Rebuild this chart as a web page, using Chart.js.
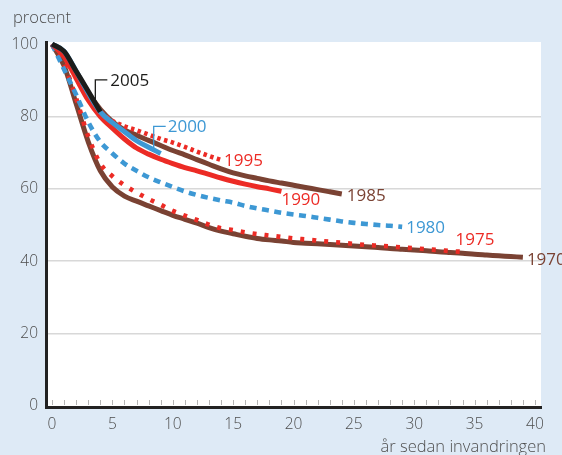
<!DOCTYPE html>
<html>
<head>
<meta charset="utf-8">
<script src="https://cdn.jsdelivr.net/npm/chart.js@4/dist/chart.umd.min.js"></script>
<style>
html,body{margin:0;padding:0;background:#deeaf6;}
#wrap{width:562px;height:455px;position:relative;}
</style>
</head>
<body>
<div id="wrap"><canvas id="c" width="562" height="455"></canvas></div>
<script>
// ---- data ----
const yearsSince = [0,1,2,3,4,5,6,7,8,9,10,11,12,13,14,15,16,17,18,19,20,21,22,23,24,25,26,27,28,29,30,31,32,33,34,35,36,37,38,39];
const seriesNames = ['2005','2000','1995','1990','1985','1980','1975','1970'];
const s2005 = [100,98,92.5,87,81.3];
const s2000 = [100,98,92.5,86.5,81.3,78.3,75.8,73.3,71.5,69.8];
const s1995 = [100,97.3,91.5,86,81.5,78.8,77.3,76.2,75,73.8,72.8,71.6,70.3,69.1,68];
const s1990 = [100,96.5,90.5,84.5,80,76.8,73.8,71.3,69.6,68.2,67,65.9,65,64,63,62.1,61.3,60.6,60,59.3];
const s1985 = [100,97.3,92,86.5,82,78.6,76.3,74.8,73.4,72,70.6,69.4,68.1,66.8,65.5,64.4,63.6,62.9,62.2,61.6,61,60.4,59.8,59.2,58.6];
const s1980 = [100,93,86,78.5,73,69.8,67,65,63.2,61.8,60.5,59.3,58.3,57.5,56.8,56.2,55.3,54.6,54,53.4,52.9,52.5,52,51.5,51,50.6,50.3,50,49.8,49.5];
const s1975 = [100,94.5,85,74.5,67,63.5,61,59,57.2,55.6,53.9,52.6,51.4,50.1,49.1,48.6,48,47.5,47.1,46.7,46.3,46,45.7,45.4,45.1,44.8,44.5,44.3,44.1,43.8,43.6,43.3,43.1,42.8,42.6];
const s1970 = [100,94,83.5,73,65,60.5,58,56.6,55.3,54,52.7,51.6,50.5,49.3,48.3,47.6,46.9,46.3,45.9,45.6,45.2,45,44.8,44.6,44.4,44.2,44,43.8,43.5,43.3,43.1,42.9,42.6,42.4,42.2,41.9,41.7,41.5,41.3,41.1];
const xTickValues = [0,5,10,15,20,25,30,35,40];
const yTickValues = [0,20,40,60,80,100];
const minorTickValues = [0,1,2,3,4,5,6,7,8,9,10,11,12,13,14,15,16,17,18,19,20,21,22,23,24,25,26,27,28,29,30,31,32,33,34,35,36,37,38,39,40];
const yTitle = 'procent';
const xTitle = 'år sedan invandringen';

// ---- styles ----
const BROWN = '#7a4233', RED = '#ec2b25', BLUE = '#3d98d4', BLACK = '#1c1c1a';
const TEXT = '#4e4e4e';
const FONT = "'Open Sans', 'Noto Sans', sans-serif";

const seriesValues = [s2005, s2000, s1995, s1990, s1985, s1980, s1975, s1970];
const seriesStyle = [
  {c: BLACK, dash: []},
  {c: BLUE, dash: []},
  {c: RED, dash: [3.5, 3.5]},
  {c: RED, dash: []},
  {c: BROWN, dash: []},
  {c: BLUE, dash: [7, 5.5]},
  {c: RED, dash: [4, 8]},
  {c: BROWN, dash: []}
];
// label offsets relative to the last point of each series (pixels)
const labelStyle = [
  {dx: 10, dy: -31, leader: [[-5,-6],[-5,-32],[7,-32]]},
  {dx: 7, dy: -26, leader: [[-7,-3],[-7,-27],[5,-27]]},
  {dx: 3, dy: 1},
  {dx: 0, dy: 9},
  {dx: 5, dy: 2},
  {dx: 4, dy: 1},
  {dx: -7, dy: -12},
  {dx: 4, dy: 3}
];

const datasets = seriesValues.map((vals, i) => ({
  label: seriesNames[i],
  data: vals.map((v, j) => ({x: yearsSince[j], y: v})),
  borderColor: seriesStyle[i].c,
  backgroundColor: seriesStyle[i].c,
  borderWidth: seriesStyle[i].dash.length ? 4.6 : 5,
  borderDash: seriesStyle[i].dash,
  borderCapStyle: 'butt',
  borderJoinStyle: 'round',
  pointRadius: 0,
  cubicInterpolationMode: 'monotone',
  fill: false,
  clip: false
}));

const bgPlugin = {
  id: 'bg',
  beforeDraw(chart) {
    const {ctx, chartArea: a} = chart;
    ctx.save();
    ctx.fillStyle = '#deeaf6';
    ctx.fillRect(0, 0, chart.width, chart.height);
    ctx.fillStyle = '#ffffff';
    ctx.fillRect(a.left, a.top, a.right - a.left, a.bottom - a.top);
    ctx.restore();
  },
  beforeDatasetsDraw(chart) {
    const {ctx, chartArea: a, scales} = chart;
    ctx.save();
    ctx.strokeStyle = '#b5b5b5';
    ctx.lineWidth = 1;
    minorTickValues.forEach(v => {
      const x = Math.round(scales.x.getPixelForValue(v)) + 0.5;
      ctx.beginPath();
      ctx.moveTo(x, a.bottom - 2);
      ctx.lineTo(x, a.bottom - 7);
      ctx.stroke();
    });
    ctx.restore();
  },
  afterDatasetsDraw(chart) {
    const {ctx} = chart;
    ctx.save();
    ctx.font = '17px ' + FONT;
    ctx.textBaseline = 'middle';
    ctx.textAlign = 'left';
    seriesNames.forEach((name, i) => {
      const meta = chart.getDatasetMeta(i);
      const last = meta.data[meta.data.length - 1];
      const ls = labelStyle[i];
      const col = seriesStyle[i].c;
      if (ls.leader) {
        ctx.strokeStyle = col;
        ctx.lineWidth = 1.3;
        ctx.beginPath();
        ls.leader.forEach((p, k) => {
          const px = last.x + p[0], py = last.y + p[1];
          if (k === 0) ctx.moveTo(px, py); else ctx.lineTo(px, py);
        });
        ctx.stroke();
      }
      ctx.fillStyle = col;
      ctx.fillText(name, last.x + ls.dx, last.y + ls.dy);
    });
    ctx.restore();
  },
  afterDraw(chart) {
    const {ctx} = chart;
    ctx.save();
    ctx.fillStyle = TEXT;
    ctx.font = '300 16.5px ' + FONT;
    ctx.textBaseline = 'middle';
    ctx.textAlign = 'left';
    ctx.fillText(yTitle, 13, 18);
    ctx.textAlign = 'right';
    ctx.fillText(xTitle, 546, 447);
    ctx.restore();
  }
};

new Chart(document.getElementById('c'), {
  type: 'line',
  data: {datasets},
  options: {
    responsive: false,
    animation: false,
    devicePixelRatio: 1,
    layout: {padding: {left: 0, right: 21, top: 42, bottom: 0}},
    plugins: {legend: {display: false}, tooltip: {enabled: false}},
    scales: {
      x: {
        type: 'linear',
        min: -0.5,
        max: 40.5,
        afterFit(s) { s.height = 48; },
        afterBuildTicks(s) { s.ticks = xTickValues.map(v => ({value: v})); },
        grid: {display: false, drawTicks: false},
        border: {display: true, color: '#222222', width: 3},
        ticks: {color: TEXT, font: {family: FONT, size: 15.5, weight: 300}, padding: 8, maxRotation: 0, autoSkip: false}
      },
      y: {
        type: 'linear',
        min: -0.3,
        max: 100.6,
        afterFit(s) { s.width = 46; },
        afterBuildTicks(s) { s.ticks = yTickValues.map(v => ({value: v})); },
        grid: {
          drawTicks: false,
          lineWidth: 1.5,
          color: ctx => (ctx.tick && (ctx.tick.value === 0 || ctx.tick.value === 100)) ? 'rgba(0,0,0,0)' : '#d8d8d8'
        },
        border: {display: true, color: '#222222', width: 3},
        ticks: {color: TEXT, font: {family: FONT, size: 15.5, weight: 300}, padding: 8, autoSkip: false}
      }
    }
  },
  plugins: [bgPlugin]
});
</script>
</body>
</html>
